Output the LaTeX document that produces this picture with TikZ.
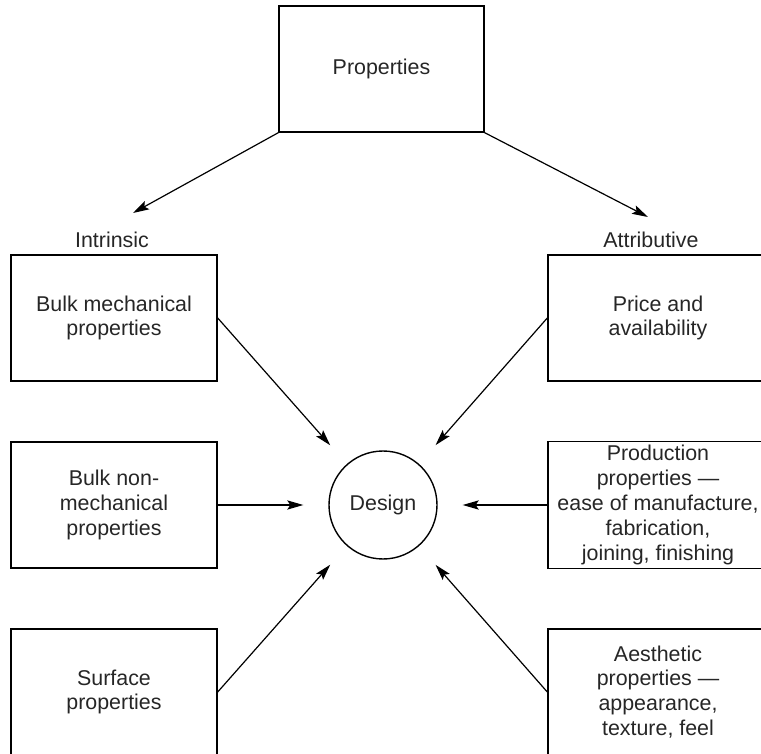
\documentclass[tikz,border=0pt]{standalone}
\usepackage{fontspec}
\setmainfont{Liberation Sans}
\usetikzlibrary{arrows.meta}

\tikzset{
  prop/.style={draw, line width=0.7pt, align=center, inner sep=2pt,
    minimum height=63pt},
  lbox/.style={prop, minimum width=103pt},
  rbox/.style={prop, minimum width=110pt},
  toarrow/.style={line width=0.6pt, -{Stealth[length=8pt,width=4.6pt,inset=1.5pt]}},
}

\begin{document}
\begin{tikzpicture}[x=0.5pt, y=-0.5pt,
    font=\fontsize{10.7}{12.4}\selectfont, text=black!85]
  \useasboundingbox (0,0) rectangle (761,754);
  \clip (0,0) rectangle (761,754);

  % Top box and the two groups
  \node[prop, minimum width=102.5pt] (props) at (381.5,69) {Properties};
  \coordinate (intrtip) at (133,213);
  \coordinate (attrtip) at (648,217);
  \draw[toarrow] (props.south west) -- (intrtip);
  \draw[toarrow] (props.south east) -- (attrtip);

  \node (intr) at (112,240) {Intrinsic};
  \node (attr) at (651,240) {Attributive};

  % Centre
  \node[draw, circle, line width=0.7pt, minimum size=54pt, inner sep=0pt]
    (design) at (383,505) {Design};

  % Intrinsic properties
  \node[lbox] (bulkmech) at (114,318) {Bulk mechanical\\properties};
  \node[lbox] (bulknon) at (114,505) {Bulk non-\\mechanical\\properties};
  \node[lbox] (surface) at (114,692) {Surface\\properties};

  % Attributive properties
  \node[rbox] (price) at (658,318) {Price and\\availability};
  \node[rbox] (prod) at (658,505) {Production\\properties ---\\ease of manufacture,\\fabrication,\\joining, finishing};
  \node[rbox] (aesth) at (658,692) {Aesthetic\\properties ---\\appearance,\\texture, feel};

  % Arrows into the design
  \foreach \src in {bulkmech,bulknon,surface}
    \draw[toarrow, shorten >=12.5pt] (\src.east) -- (design);
  \foreach \src in {price,prod,aesth}
    \draw[toarrow, shorten >=12.5pt] (\src.west) -- (design);
\end{tikzpicture}
\end{document}
